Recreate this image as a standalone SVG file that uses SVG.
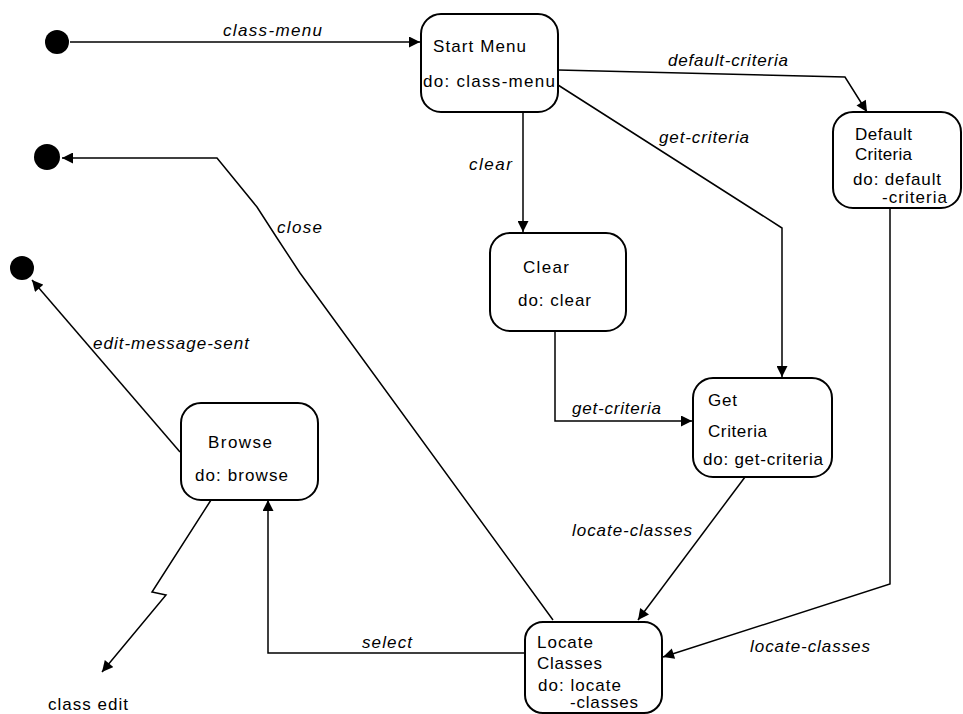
<svg xmlns="http://www.w3.org/2000/svg" width="963" height="714" viewBox="0 0 963 714">
<style>
.st{fill:#fff;stroke:#000;stroke-width:2}
.t{font-family:"Liberation Sans",Arial,sans-serif;font-size:17px;fill:#000}
.l{font-family:"Liberation Sans",Arial,sans-serif;font-size:17px;font-style:italic;fill:#000}
.c{fill:none;stroke:#000;stroke-width:1.5}
.dot{fill:#000}
</style>
<defs>
<marker id="a" viewBox="0 0 10 10" refX="10" refY="5" markerWidth="12" markerHeight="11" markerUnits="userSpaceOnUse" orient="auto">
<path d="M0,0 L10,5 L0,10 z" fill="#000"/>
</marker>
</defs>
<rect width="963" height="714" fill="#fff"/>
<g id="connectors">
<path class="c" d="M70,42 H420" marker-end="url(#a)"/>
<text class="l" x="223" y="36" textLength="99">class-menu</text>
<path class="c" d="M558,70 L845,77 L867,112" marker-end="url(#a)"/>
<text class="l" x="668" y="66" textLength="120">default-criteria</text>
<path class="c" d="M558,85 L782,228 V377" marker-end="url(#a)"/>
<text class="l" x="659" y="143" textLength="90">get-criteria</text>
<path class="c" d="M523,112 V232" marker-end="url(#a)"/>
<text class="l" x="469" y="170" textLength="43">clear</text>
<path class="c" d="M555,331 V421 H692" marker-end="url(#a)"/>
<text class="l" x="572" y="414" textLength="89">get-criteria</text>
<path class="c" d="M745,477 L638,620" marker-end="url(#a)"/>
<text class="l" x="572" y="536" textLength="120">locate-classes</text>
<path class="c" d="M890,208 V584 L663,657" marker-end="url(#a)"/>
<text class="l" x="750" y="652" textLength="120">locate-classes</text>
<path class="c" d="M525,653 H268 V500" marker-end="url(#a)"/>
<text class="l" x="362" y="648" textLength="50">select</text>
<path class="c" d="M553,620 L300,273 L277,238 L257,207 L217,158 H62" marker-end="url(#a)"/>
<text class="l" x="277" y="233" textLength="45">close</text>
<path class="c" d="M180,452 L32,280" marker-end="url(#a)"/>
<text class="l" x="93" y="349" textLength="156">edit-message-sent</text>
<path class="c" d="M211,500 L152,592 L166,595 L102,672" marker-end="url(#a)"/>
</g>
<g id="initial"><circle class="dot" cx="57" cy="42" r="12"/></g>
<g id="final-close"><circle class="dot" cx="47" cy="157" r="13"/></g>
<g id="final-edit"><circle class="dot" cx="22" cy="268" r="12"/></g>
<g id="start-menu">
<rect class="st" x="421" y="14" width="137" height="98" rx="20"/>
<text class="t" x="433" y="52" textLength="93">Start Menu</text>
<text class="t" x="423" y="87" textLength="132">do: class-menu</text>
</g>
<g id="default-criteria">
<rect class="st" x="833" y="112" width="128" height="96" rx="20"/>
<text class="t" x="855" y="140" textLength="57">Default</text>
<text class="t" x="855" y="160" textLength="57">Criteria</text>
<text class="t" x="853" y="185" textLength="88">do: default</text>
<text class="t" x="882" y="203" textLength="65">-criteria</text>
</g>
<g id="clear">
<rect class="st" x="490" y="233" width="136" height="98" rx="20"/>
<text class="t" x="523" y="273" textLength="46">Clear</text>
<text class="t" x="518" y="306" textLength="73">do: clear</text>
</g>
<g id="get-criteria">
<rect class="st" x="693" y="378" width="139" height="99" rx="20"/>
<text class="t" x="708" y="406" textLength="29">Get</text>
<text class="t" x="708" y="437" textLength="59">Criteria</text>
<text class="t" x="703" y="465" textLength="120">do: get-criteria</text>
</g>
<g id="browse">
<rect class="st" x="181" y="403" width="137" height="97" rx="20"/>
<text class="t" x="208" y="448" textLength="64">Browse</text>
<text class="t" x="195" y="481" textLength="93">do: browse</text>
</g>
<g id="locate-classes">
<rect class="st" x="525" y="622" width="137" height="91" rx="18"/>
<text class="t" x="537" y="648" textLength="56">Locate</text>
<text class="t" x="537" y="669" textLength="65">Classes</text>
<text class="t" x="538" y="691" textLength="83">do: locate</text>
<text class="t" x="570" y="708" textLength="68">-classes</text>
</g>
<g id="class-edit">
<text class="t" x="48" y="710" textLength="80">class edit</text>
</g>
</svg>
